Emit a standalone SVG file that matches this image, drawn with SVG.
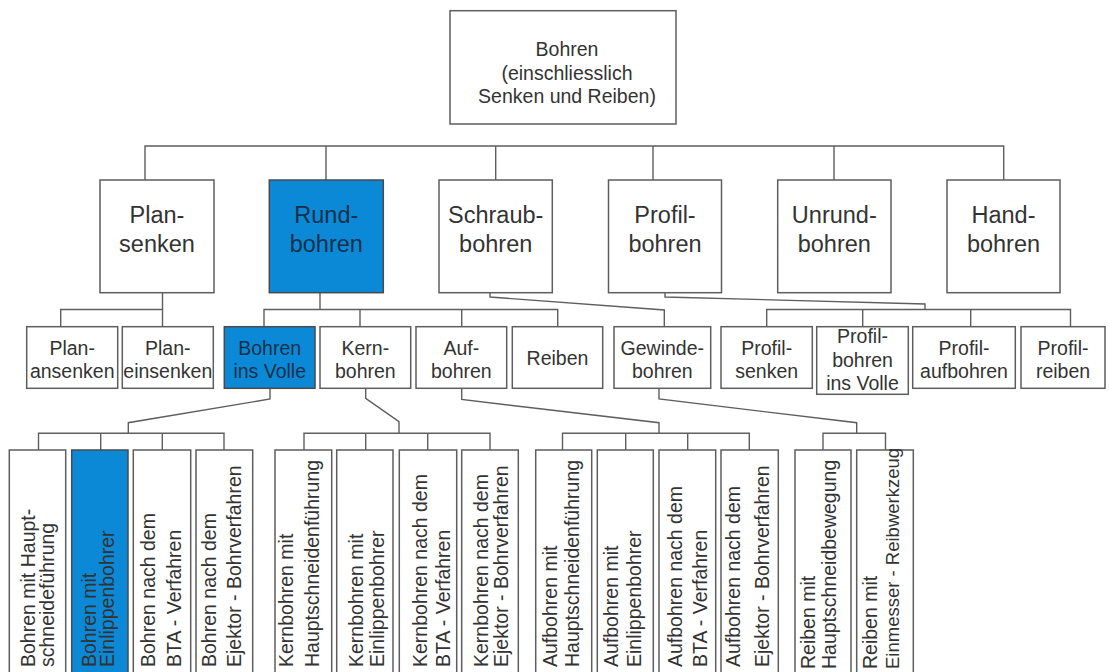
<svg xmlns="http://www.w3.org/2000/svg" width="1109" height="672" viewBox="0 0 1109 672">
<style>
.box{fill:#ffffff;stroke:#5e5e5e;stroke-width:1.5}
.blue{fill:#0b89d6;stroke:#4a4a4a;stroke-width:1.5}
.t{font-family:"Liberation Sans",Arial,sans-serif;fill:#333333;text-anchor:middle}
.tb{fill:#15304a}
.t1{font-size:19.5px}
.t2{font-size:23.5px}
.t3{font-size:19.5px}
.v{font-family:"Liberation Sans",Arial,sans-serif;font-size:19.5px;fill:#333333;text-anchor:start}
.c{fill:none;stroke:#5e5e5e;stroke-width:1.4}
</style>
<rect width="1109" height="672" fill="#ffffff"/>
<g id="connectors" class="c">
<path d="M145,180 V146 H1003.7 V180"/>
<path d="M326,146 V180 M495.7,146 V180 M653,146 V180 M834,146 V180"/>
<path d="M162.5,293 V309.5 M60.7,327 V309.5 H162.5 V327"/>
<path d="M320,293 V309.5 M264,327 V309.5 H557.7 V327 M360,309.5 V327 M461.7,309.5 V327"/>
<path d="M490,292.5 V297 L664.3,310 V327"/>
<path d="M665,292.5 V297 L925,304 V309.5 M766.7,327 V309.5 H1070.5 V327 M862.7,309.5 V327 M970.7,309.5 V327"/>
<path d="M270,388.5 V399 L128.3,422.7 V433.3 M38.5,450 V433.3 H224 V450 M100.7,433.3 V450 M162.3,433.3 V450"/>
<path d="M365.7,388.5 V398.3 L399,421.7 V433.3 M304,450 V433.3 H490 V450 M365.7,433.3 V450 M427.7,433.3 V450"/>
<path d="M461.7,388.5 V399.5 L659,422.7 V433.3 M562.5,450 V433.3 H749.3 V450 M625.7,433.3 V450 M687.7,433.3 V450"/>
<path d="M659,388.5 V399 L856.7,422.7 V433.3 M823,450 V433.3 H885.5 V450"/>
</g>
<g id="n-root">
<rect class="box" x="450" y="10.7" width="226" height="113.3"/>
<text class="t t1"><tspan x="567" y="56">Bohren</tspan><tspan x="567" y="79.5">(einschliesslich</tspan><tspan x="567" y="103">Senken und Reiben)</tspan></text>
</g>
<g id="n-plansenken">
<rect class="box" x="100" y="180" width="114" height="112.7"/>
<text class="t t2"><tspan x="157" y="223">Plan-</tspan><tspan x="157" y="252">senken</tspan></text>
</g>
<g id="n-rundbohren">
<rect class="blue" x="269.3" y="180" width="114" height="112.7"/>
<text class="t t2 tb"><tspan x="326.3" y="223">Rund-</tspan><tspan x="326.3" y="252">bohren</tspan></text>
</g>
<g id="n-schraubbohren">
<rect class="box" x="439" y="180" width="113.3" height="112.7"/>
<text class="t t2"><tspan x="495.7" y="223">Schraub-</tspan><tspan x="495.7" y="252">bohren</tspan></text>
</g>
<g id="n-profilbohren">
<rect class="box" x="608.5" y="180" width="113" height="112.7"/>
<text class="t t2"><tspan x="665" y="223">Profil-</tspan><tspan x="665" y="252">bohren</tspan></text>
</g>
<g id="n-unrundbohren">
<rect class="box" x="777.7" y="180" width="113.3" height="112.7"/>
<text class="t t2"><tspan x="834.3" y="223">Unrund-</tspan><tspan x="834.3" y="252">bohren</tspan></text>
</g>
<g id="n-handbohren">
<rect class="box" x="947" y="180" width="113" height="112.7"/>
<text class="t t2"><tspan x="1003.5" y="223">Hand-</tspan><tspan x="1003.5" y="252">bohren</tspan></text>
</g>
<g id="n-planansenken">
<rect class="box" x="26.7" y="326.7" width="91" height="61.6"/>
<text class="t t3"><tspan x="72.2" y="355">Plan-</tspan><tspan x="72.2" y="377.5">ansenken</tspan></text>
</g>
<g id="n-planeinsenken">
<rect class="box" x="122.3" y="326.7" width="91" height="61.6"/>
<text class="t t3"><tspan x="167.8" y="355">Plan-</tspan><tspan x="167.8" y="377.5">einsenken</tspan></text>
</g>
<g id="n-bohreninsvolle">
<rect class="blue" x="224.3" y="326.7" width="90.7" height="61.6"/>
<text class="t t3 tb"><tspan x="269.7" y="355">Bohren</tspan><tspan x="269.7" y="377.5">ins Volle</tspan></text>
</g>
<g id="n-kernbohren">
<rect class="box" x="320" y="326.7" width="90.7" height="61.6"/>
<text class="t t3"><tspan x="365.3" y="355">Kern-</tspan><tspan x="365.3" y="377.5">bohren</tspan></text>
</g>
<g id="n-aufbohren">
<rect class="box" x="416" y="326.7" width="90.7" height="61.6"/>
<text class="t t3"><tspan x="461.3" y="355">Auf-</tspan><tspan x="461.3" y="377.5">bohren</tspan></text>
</g>
<g id="n-reiben">
<rect class="box" x="512.3" y="326.7" width="90.4" height="61.6"/>
<text class="t t3"><tspan x="557.5" y="365">Reiben</tspan></text>
</g>
<g id="n-gewindebohren">
<rect class="box" x="614" y="326.7" width="96.7" height="61.6"/>
<text class="t t3"><tspan x="662.3" y="355">Gewinde-</tspan><tspan x="662.3" y="377.5">bohren</tspan></text>
</g>
<g id="n-profilsenken">
<rect class="box" x="721" y="326.7" width="91.3" height="61.6"/>
<text class="t t3"><tspan x="766.7" y="355">Profil-</tspan><tspan x="766.7" y="377.5">senken</tspan></text>
</g>
<g id="n-profilbohreninsvolle">
<rect class="box" x="816.7" y="326.7" width="91.6" height="67.6"/>
<text class="t t3"><tspan x="862.5" y="343.3">Profil-</tspan><tspan x="862.5" y="367">bohren</tspan><tspan x="862.5" y="390">ins Volle</tspan></text>
</g>
<g id="n-profilaufbohren">
<rect class="box" x="912.7" y="326.7" width="102.6" height="61.6"/>
<text class="t t3"><tspan x="964" y="355">Profil-</tspan><tspan x="964" y="378">aufbohren</tspan></text>
</g>
<g id="n-profilreiben">
<rect class="box" x="1021" y="326.7" width="84" height="61.6"/>
<text class="t t3"><tspan x="1063" y="355">Profil-</tspan><tspan x="1063" y="378">reiben</tspan></text>
</g>
<g id="n-bohren-haupt">
<rect class="box" x="9.3" y="450" width="56.4" height="240"/>
<text class="v" transform="rotate(-90)"><tspan x="-667" y="35">Bohren mit Haupt-</tspan><tspan x="-667" y="53.5">schneideführung</tspan></text>
</g>
<g id="n-bohren-einlippen">
<rect class="blue" x="71.7" y="450" width="56.3" height="240"/>
<text class="v tb" transform="rotate(-90)"><tspan x="-667" y="95.5">Bohren mit</tspan><tspan x="-667" y="113.5">Einlippenbohrer</tspan></text>
</g>
<g id="n-bohren-bta">
<rect class="box" x="133.3" y="450" width="57.4" height="240"/>
<text class="v" transform="rotate(-90)"><tspan x="-667" y="155">Bohren nach dem</tspan><tspan x="-667" y="181">BTA - Verfahren</tspan></text>
</g>
<g id="n-bohren-ejektor">
<rect class="box" x="196" y="450" width="56.7" height="240"/>
<text class="v" transform="rotate(-90)"><tspan x="-667" y="216">Bohren nach dem</tspan><tspan x="-667" y="241">Ejektor - Bohrverfahren</tspan></text>
</g>
<g id="n-kern-haupt">
<rect class="box" x="275" y="450" width="56.7" height="240"/>
<text class="v" transform="rotate(-90)"><tspan x="-667" y="293">Kernbohren mit</tspan><tspan x="-667" y="319">Hauptschneidenführung</tspan></text>
</g>
<g id="n-kern-einlippen">
<rect class="box" x="336.7" y="450" width="56.3" height="240"/>
<text class="v" transform="rotate(-90)"><tspan x="-667" y="363">Kernbohren mit</tspan><tspan x="-667" y="384">Einlippenbohrer</tspan></text>
</g>
<g id="n-kern-bta">
<rect class="box" x="399.3" y="450" width="57.4" height="240"/>
<text class="v" transform="rotate(-90)"><tspan x="-667" y="427">Kernbohren nach dem</tspan><tspan x="-667" y="450">BTA - Verfahren</tspan></text>
</g>
<g id="n-kern-ejektor">
<rect class="box" x="461.7" y="450" width="56.6" height="240"/>
<text class="v" transform="rotate(-90)"><tspan x="-667" y="488">Kernbohren nach dem</tspan><tspan x="-667" y="508">Ejektor - Bohrverfahren</tspan></text>
</g>
<g id="n-auf-haupt">
<rect class="box" x="535.7" y="450" width="56" height="240"/>
<text class="v" transform="rotate(-90)"><tspan x="-667" y="557">Aufbohren mit</tspan><tspan x="-667" y="579">Hauptschneidenführung</tspan></text>
</g>
<g id="n-auf-einlippen">
<rect class="box" x="597.3" y="450" width="56" height="240"/>
<text class="v" transform="rotate(-90)"><tspan x="-667" y="618">Aufbohren mit</tspan><tspan x="-667" y="641">Einlippenbohrer</tspan></text>
</g>
<g id="n-auf-bta">
<rect class="box" x="659" y="450" width="56.7" height="240"/>
<text class="v" transform="rotate(-90)"><tspan x="-667" y="682">Aufbohren nach dem</tspan><tspan x="-667" y="707">BTA - Verfahren</tspan></text>
</g>
<g id="n-auf-ejektor">
<rect class="box" x="721" y="450" width="57.3" height="240"/>
<text class="v" transform="rotate(-90)"><tspan x="-667" y="740">Aufbohren nach dem</tspan><tspan x="-667" y="769">Ejektor - Bohrverfahren</tspan></text>
</g>
<g id="n-reiben-haupt">
<rect class="box" x="795" y="450" width="56" height="240"/>
<text class="v" transform="rotate(-90)"><tspan x="-669" y="815">Reiben mit</tspan><tspan x="-669" y="836">Hauptschneidbewegung</tspan></text>
</g>
<g id="n-reiben-einmesser">
<rect class="box" x="856.7" y="450" width="56.6" height="240"/>
<text class="v" transform="rotate(-90)"><tspan x="-669" y="877">Reiben mit</tspan><tspan x="-669" y="899" font-size="18.5px">Einmesser - Reibwerkzeug</tspan></text>
</g>
</svg>
